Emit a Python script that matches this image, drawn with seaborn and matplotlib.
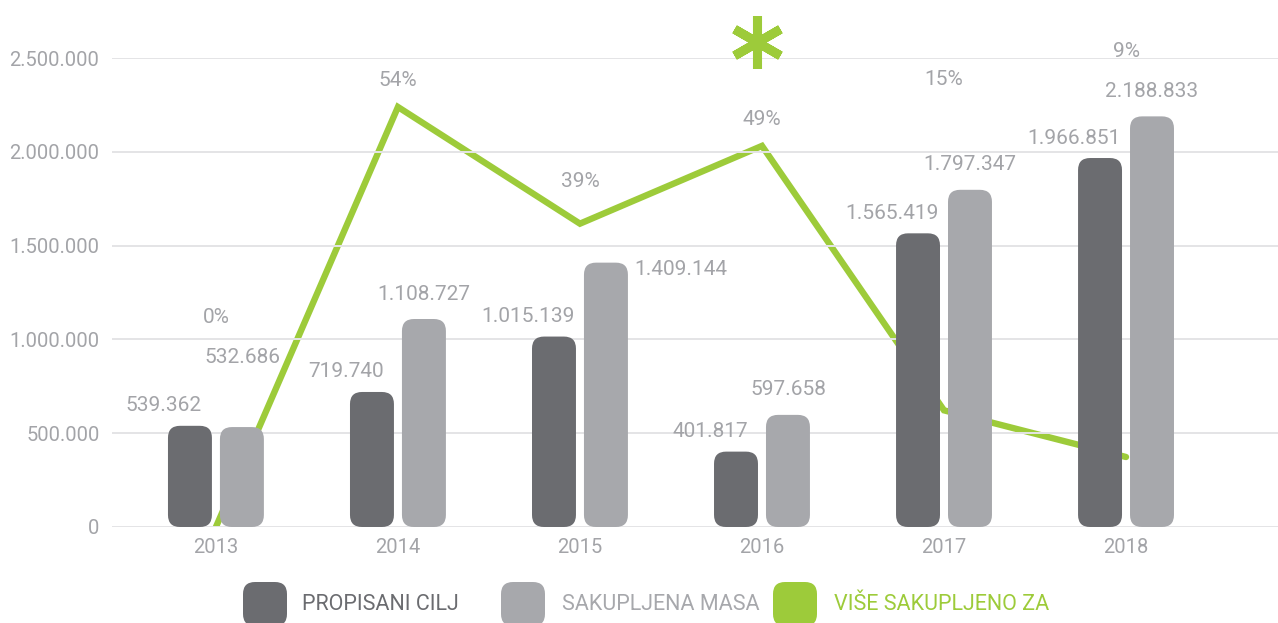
import pandas as pd
import numpy as np
import matplotlib

matplotlib.use('Agg')
import matplotlib.pyplot as plt
from matplotlib.patches import FancyBboxPatch
import seaborn as sns

# ---- data ----
years = ['2013', '2014', '2015', '2016', '2017', '2018']
propisani_cilj = [539362, 719740, 1015139, 401817, 1565419, 1966851]
sakupljena_masa = [532686, 1108727, 1409144, 597658, 1797347, 2188833]
vise_sakupljeno = [0, 54, 39, 49, 15, 9]
series_names = ['PROPISANI CILJ', 'SAKUPLJENA MASA', 'VIŠE SAKUPLJENO ZA']

# ---- style ----
DARK = '#6b6c70'
LIGHT = '#a7a8ac'
GREEN = '#9dcb3a'
TXT = '#a3a4a8'
W, H = 1278, 623

sns.set_theme(style='white')
plt.rcParams['font.family'] = ['Roboto', 'DejaVu Sans']

df = pd.DataFrame({
    'year': years * 2,
    'value': propisani_cilj + sakupljena_masa,
    'series': [series_names[0]] * len(years) + [series_names[1]] * len(years),
})

fig = plt.figure(figsize=(W / 100, H / 100), dpi=100)
ax = fig.add_axes([112 / W, (H - 527) / H, (1278 - 112) / W, (527 - 58) / H])
ax2 = ax.twinx()
ax.set_zorder(ax2.get_zorder() + 1)
ax.patch.set_visible(False)

sns.barplot(data=df, x='year', y='value', hue='series', palette=[DARK, LIGHT],
            width=0.571, gap=0.154, legend=False, ax=ax, saturation=1)
ax.set_xlim(-0.571, 5.835)
ax.set_ylim(0, 2500000)
ax2.set_ylim(0, 60.3)

# percent line on the secondary scale, behind the bars
sns.lineplot(x=np.arange(len(years)), y=vise_sakupljeno, color=GREEN, lw=4.6,
             ax=ax2, solid_joinstyle='miter')
ax2.set_yticks([])
ax2.set_ylabel('')
for s in ax2.spines.values():
    s.set_visible(False)

# rounded bars
x_per_px = (ax.get_xlim()[1] - ax.get_xlim()[0]) / (1278 - 112)
y_per_px = 2500000 / (527 - 58)
r_px = 12
bars = list(ax.patches)
for p in bars:
    fb = FancyBboxPatch((p.get_x(), p.get_y()), p.get_width(), p.get_height(),
                        boxstyle=f'round,pad=0,rounding_size={r_px * x_per_px}',
                        mutation_aspect=y_per_px / x_per_px,
                        fc=p.get_facecolor(), ec='none', zorder=3)
    p.remove()
    ax.add_patch(fb)

# grid / axes
ax.set_yticks(np.arange(0, 2500001, 500000))
ax.yaxis.set_major_formatter(lambda v, pos: f'{v:,.0f}'.replace(',', '.'))
ax.grid(axis='y', color='#e4e4e6', lw=1.4, zorder=0)
ax.set_axisbelow(True)
for s in ax.spines.values():
    s.set_visible(False)
ax.tick_params(axis='y', length=0, pad=9, labelsize=14.5, labelcolor=TXT)
ax.tick_params(axis='x', length=0, pad=8, labelsize=14.5, labelcolor=TXT)
ax.set_xlabel('')
ax.set_ylabel('')

# value labels
off = 0.1429  # half distance between paired bar centres
light_nudge = {0: (0, 45), 2: (75, -32)}
pct_nudge = {2: 16, 4: 45}
for i in range(len(years)):
    ax.annotate(f'{propisani_cilj[i]:,}'.replace(',', '.'), (i - off, propisani_cilj[i]),
                xytext=(-26, 20), textcoords='offset pixels', ha='center', va='center',
                fontsize=15, color=TXT)
    nx, ny = light_nudge.get(i, (0, 0))
    ax.annotate(f'{sakupljena_masa[i]:,}'.replace(',', '.'), (i + off, sakupljena_masa[i]),
                xytext=(nx, 25 + ny), textcoords='offset pixels', ha='center', va='center',
                fontsize=15, color=TXT)
    # percent label above whichever is higher: line vertex or light value label
    line_px = vise_sakupljeno[i] / 60.3 * (527 - 58)
    lab_px = sakupljena_masa[i] / y_per_px + 25 + ny
    top_px = max(line_px + 26, lab_px + 40) + pct_nudge.get(i, 0)
    ax.annotate(f'{vise_sakupljeno[i]}%', (i, 0), xytext=(0, top_px),
                textcoords='offset pixels', ha='center', va='center',
                fontsize=15, color=TXT, annotation_clip=False)

# asterisk marker above 2016
ax.plot([years.index('2016') - 0.03], [2585000], marker=(6, 2, 0), ms=38, mew=6.5,
        color=GREEN, clip_on=False, zorder=5)

# legend
legend_cols = [DARK, LIGHT, GREEN]
sq_left = [243, 501, 773]
txt_left = [302, 562, 834]
for name, col, sx, tx in zip(series_names, legend_cols, sq_left, txt_left):
    sq = FancyBboxPatch((sx / W, (H - 626) / H), 44 / W, 44 / H,
                        boxstyle=f'round,pad=0,rounding_size={12 / W}',
                        mutation_aspect=W / H, transform=fig.transFigure,
                        fc=col, ec='none', clip_on=False)
    fig.patches.append(sq)
    fig.text(tx / W, (H - 605) / H, name, ha='left', va='center', fontsize=15.5, color=col)

fig.savefig('out.png', dpi=100)
plt.close(fig)
